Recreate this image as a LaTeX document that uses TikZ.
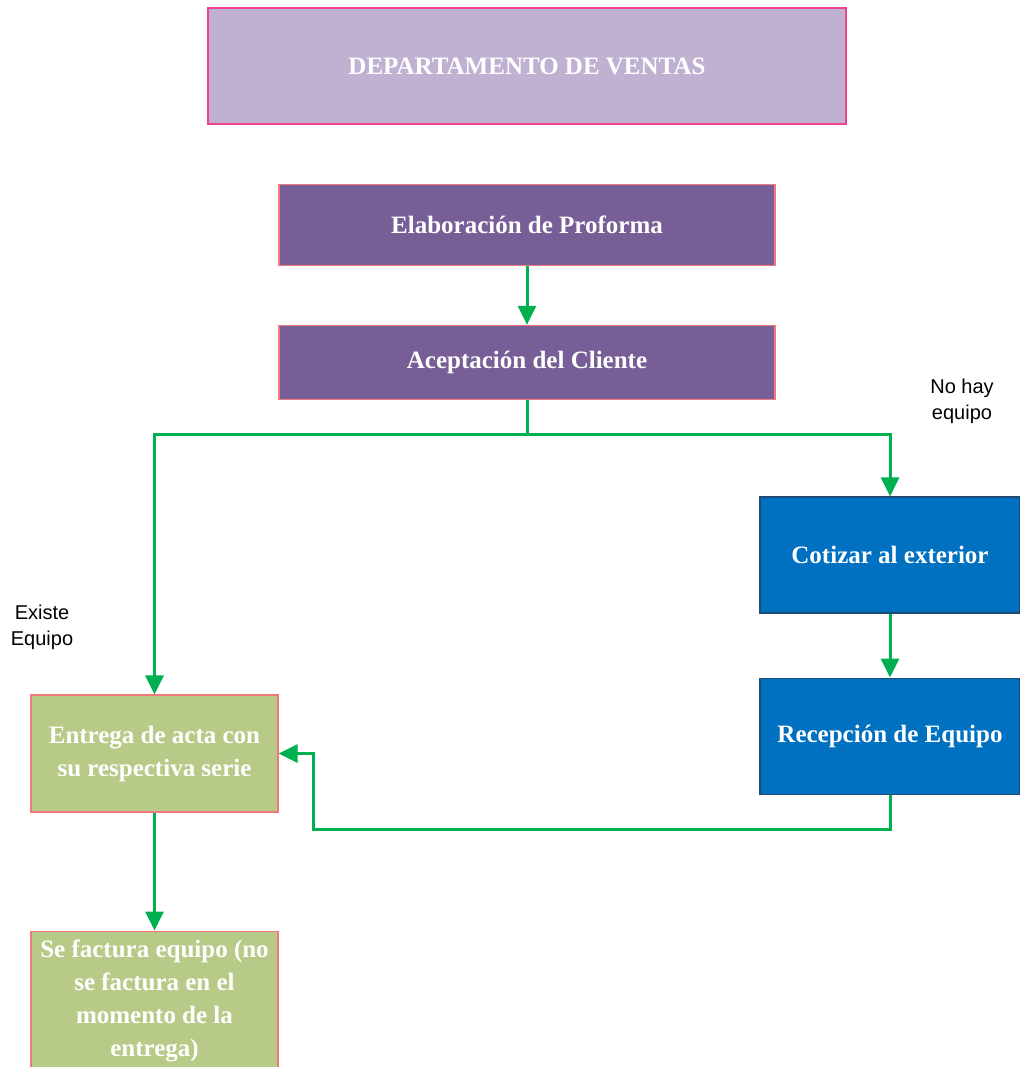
\documentclass[tikz,border=0pt]{standalone}
\usepackage{fontspec}
\setmainfont{Liberation Serif}
\newfontfamily\notefont{Liberation Sans}
\usetikzlibrary{arrows.meta, positioning}

\definecolor{lavender}{HTML}{C0B1D3}
\definecolor{pinkline}{HTML}{F0438F}
\definecolor{plum}{HTML}{785E96}
\definecolor{salmon}{HTML}{F2787A}
\definecolor{seablue}{HTML}{0070C0}
\definecolor{navyline}{HTML}{1F4A72}
\definecolor{olive}{HTML}{B8CA87}
\definecolor{flowgreen}{HTML}{00B050}

\begin{document}
\begin{tikzpicture}[
        x=0.5pt, y=-0.5pt,
        node distance=29.5pt,
        box/.style={rectangle, line width=0.6pt, inner sep=3pt, align=center, text=white, font=\bfseries\fontsize{12.5}{16.5}\selectfont},
        headbox/.style={box, draw=pinkline, fill=lavender, minimum width=319pt, minimum height=58pt},
        stepbox/.style={box, draw=salmon, fill=plum, minimum width=248pt},
        extbox/.style={box, draw=navyline, fill=seablue, minimum width=130pt, minimum height=58pt},
        endbox/.style={box, draw=salmon, fill=olive, minimum width=123.5pt, minimum height=58.5pt},
        link/.style={draw=flowgreen, line width=1.5pt},
        flow/.style={link, -{Triangle[length=9.5pt,width=9pt]}},
        note/.style={font=\notefont\fontsize{10}{13}\selectfont, align=center}
    ]
        \useasboundingbox (0,0) rectangle (1020,1067);

        % Main chain
        \node[headbox] (ventas) at (527,66) {DEPARTAMENTO DE VENTAS};
        \node[stepbox, minimum height=40.5pt, below=of ventas] (proforma) {Elaboración de Proforma};
        \node[stepbox, minimum height=37pt, below=of proforma] (cliente) {Aceptación del Cliente};

        % Outside purchase
        \node[extbox] (cotizar) at (890,555) {Cotizar al exterior};
        \node[extbox, below=32pt of cotizar] (recepcion) {Recepción de Equipo};

        % Delivery
        \node[endbox] (entrega) at (154.5,753.5) {Entrega de acta con\\su respectiva serie};
        \node[endbox, minimum height=70pt, below=59pt of entrega] (factura) {Se factura equipo (no\\se factura en el\\momento de la\\entrega)};

        % Labels
        \node[note] (nohay) at (962,401) {No hay\\equipo};
        \node[note] (existe) at (42,627) {Existe\\Equipo};

        % Connections
        \coordinate (split) at (527,434);
        \coordinate (turn) at (313,829);
        \draw[flow] (proforma) -- (cliente);
        \draw[link] (cliente) -- (split);
        \draw[flow] (split) -| (entrega);
        \draw[flow] (split) -| (cotizar);
        \draw[flow] (cotizar) -- (recepcion);
        \draw[flow] (recepcion) |- (turn) |- (entrega);
        \draw[flow] (entrega) -- (factura);
    \end{tikzpicture}
\end{document}
